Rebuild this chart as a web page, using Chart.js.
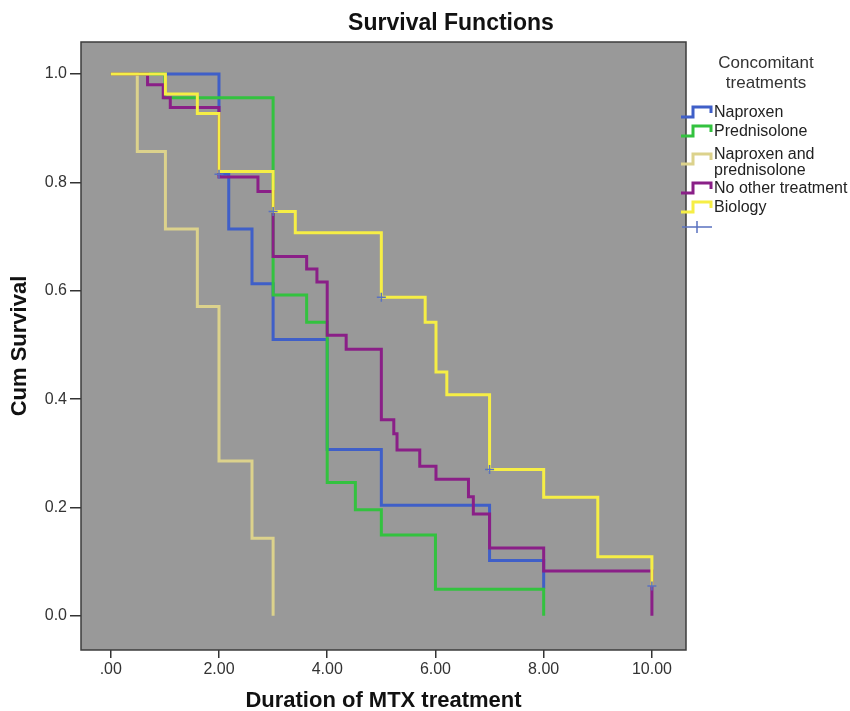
<!DOCTYPE html>
<html>
<head>
<meta charset="utf-8">
<script src="https://cdn.jsdelivr.net/npm/chart.js@4.4.1/dist/chart.umd.min.js"></script>
<style>
  html, body { margin: 0; padding: 0; background: #fff; }
</style>
</head>
<body>
<canvas id="kmChart" width="850" height="711"></canvas>
<script>
// Kaplan-Meier steps: time of each event and cum survival after it
const groupNames = ['Naproxen', 'Prednisolone', 'Naproxen and prednisolone', 'No other treatment', 'Biology'];
const legendLines = [['Naproxen'], ['Prednisolone'], ['Naproxen and', 'prednisolone'], ['No other treatment'], ['Biology']];
const groupColors = ['#3f5fc8', '#33c23f', '#dcd28c', '#8a1f87', '#f6ee45'];

const naproxenTime = [0, 2.0, 2.18, 2.61, 3.0, 4.0, 5.0, 7.0, 8.0];
const naproxenSurv = [1, 0.815, 0.714, 0.613, 0.51, 0.307, 0.204, 0.102, 0.05];

const prednisoloneTime = [0, 1.0, 3.0, 3.62, 4.0, 4.52, 5.0, 6.0, 8.0];
const prednisoloneSurv = [1, 0.956, 0.592, 0.542, 0.246, 0.196, 0.149, 0.049, 0];

const bothTime = [0, 0.49, 1.01, 1.6, 2.0, 2.61, 3.0];
const bothSurv = [1, 0.857, 0.714, 0.571, 0.286, 0.143, 0];

const noOtherTime = [0, 0.68, 0.97, 1.1, 2.0, 2.72, 3.0, 3.62, 3.81, 4.0, 4.35, 5.0, 5.23, 5.29, 5.71, 6.01, 6.61, 6.7, 7.0, 8.0, 10.0];
const noOtherSurv = [1, 0.98, 0.956, 0.938, 0.81, 0.783, 0.663, 0.64, 0.616, 0.518, 0.492, 0.362, 0.336, 0.306, 0.276, 0.252, 0.22, 0.188, 0.125, 0.083, 0];

const biologyTime = [0, 1.01, 1.6, 2.0, 3.0, 3.41, 5.0, 5.81, 6.01, 6.21, 7.0, 8.0, 9.0, 10.0];
const biologySurv = [1, 0.963, 0.927, 0.82, 0.746, 0.707, 0.588, 0.542, 0.45, 0.408, 0.27, 0.219, 0.109, 0.055];

const censorTime = [2.0, 3.0, 5.0, 7.0, 10.0];
const censorSurv = [0.815, 0.746, 0.588, 0.27, 0.055];

const xTicks = [0, 2, 4, 6, 8, 10];
const yTicks = [0, 0.2, 0.4, 0.6, 0.8, 1.0];

const FONT = "'Liberation Sans', Arial, sans-serif";
const censorColor = '#5a72c0';

const allTimes = [naproxenTime, prednisoloneTime, bothTime, noOtherTime, biologyTime];
const allSurv = [naproxenSurv, prednisoloneSurv, bothSurv, noOtherSurv, biologySurv];

const datasets = groupNames.map((name, i) => ({
  label: name,
  data: allTimes[i].map((t, j) => ({ x: t, y: allSurv[i][j] })),
  borderColor: groupColors[i],
  borderWidth: 3,
  stepped: 'before',
  pointRadius: 0,
  fill: false,
  borderCapStyle: 'butt',
  borderJoinStyle: 'miter',
  order: groupNames.length - i   // later groups drawn on top, like the original
}));

datasets.push({
  label: 'Censored',
  data: censorTime.map((t, j) => ({ x: t, y: censorSurv[j] })),
  showLine: false,
  pointStyle: 'cross',
  pointRadius: 4.5,
  borderColor: censorColor,
  borderWidth: 1.5,
  order: 0
});

// grey plot area, frame, title and the step-icon legend
const spssLook = {
  id: 'spssLook',
  beforeDatasetsDraw(chart) {
    const { ctx, chartArea: a } = chart;
    ctx.save();
    ctx.fillStyle = '#999999';
    ctx.fillRect(a.left, a.top, a.right - a.left, a.bottom - a.top);
    ctx.restore();
  },
  afterDraw(chart) {
    const { ctx, chartArea: a } = chart;
    ctx.save();
    ctx.strokeStyle = '#3c3c3c';
    ctx.lineWidth = 1.5;
    ctx.strokeRect(a.left, a.top, a.right - a.left, a.bottom - a.top);

    ctx.fillStyle = '#111';
    ctx.font = 'bold 23px ' + FONT;
    ctx.textAlign = 'center';
    ctx.textBaseline = 'middle';
    ctx.fillText('Survival Functions', 451, 24);

    // legend title
    ctx.fillStyle = '#333';
    ctx.font = '17px ' + FONT;
    ctx.fillText('Concomitant', 766, 63);
    ctx.fillText('treatments', 766, 83);

    // legend items
    const itemY = [113, 132, 155, 189, 208];
    ctx.textAlign = 'left';
    ctx.font = '16px ' + FONT;
    legendLines.forEach((lines, i) => {
      const yc = i === 2 ? 160 : itemY[i];
      ctx.strokeStyle = groupColors[i];
      ctx.lineWidth = 3;
      ctx.beginPath();
      ctx.moveTo(681, yc + 4);
      ctx.lineTo(693, yc + 4);
      ctx.lineTo(693, yc - 6);
      ctx.lineTo(711, yc - 6);
      ctx.lineTo(711, yc);
      ctx.stroke();
      ctx.fillStyle = '#222';
      lines.forEach((txt, k) => ctx.fillText(txt, 714, itemY[i] + k * 16));
    });
    // censored marker entry
    ctx.strokeStyle = censorColor;
    ctx.lineWidth = 1.5;
    ctx.beginPath();
    ctx.moveTo(682, 227);
    ctx.lineTo(712, 227);
    ctx.moveTo(697, 221);
    ctx.lineTo(697, 233);
    ctx.stroke();
    ctx.restore();
  }
};

const ctx = document.getElementById('kmChart').getContext('2d');

const chart = new Chart(ctx, {
  type: 'line',
  data: { datasets: datasets },
  options: {
    responsive: false,
    animation: false,
    devicePixelRatio: 1,
    layout: { padding: { left: 0, right: 164, top: 42, bottom: 0 } },
    plugins: {
      legend: { display: false },
      tooltip: { enabled: false }
    },
    scales: {
      x: {
        type: 'linear',
        min: -0.55,
        max: 10.63,
        afterBuildTicks: s => { s.ticks = xTicks.map(v => ({ value: v })); },
        afterFit: s => { s.height = 61; },
        ticks: {
          autoSkip: false,
          maxRotation: 0,
          padding: 2,
          color: '#333',
          font: { family: FONT, size: 16 },
          callback: v => (v === 0 ? '.00' : v.toFixed(2))
        },
        grid: { drawOnChartArea: false, drawTicks: true, tickLength: 8, color: '#333', lineWidth: 1.5 },
        border: { display: false },
        title: {
          display: true,
          text: 'Duration of MTX treatment',
          color: '#111',
          font: { family: FONT, size: 22, weight: 'bold', lineHeight: 1 },
          padding: { top: 0, bottom: -1 }
        }
      },
      y: {
        type: 'linear',
        min: -0.063,
        max: 1.059,
        afterBuildTicks: s => { s.ticks = yTicks.map(v => ({ value: v })); },
        afterFit: s => { s.width = 81; },
        ticks: {
          padding: 3,
          color: '#333',
          font: { family: FONT, size: 16 },
          callback: v => v.toFixed(1)
        },
        grid: { drawOnChartArea: false, drawTicks: true, tickLength: 11, color: '#333', lineWidth: 1.5 },
        border: { display: false },
        title: {
          display: true,
          text: 'Cum Survival',
          color: '#111',
          font: { family: FONT, size: 22, weight: 'bold', lineHeight: 1 },
          padding: { top: 9, bottom: 0 }
        }
      }
    }
  },
  plugins: [spssLook]
});
</script>
</body>
</html>
